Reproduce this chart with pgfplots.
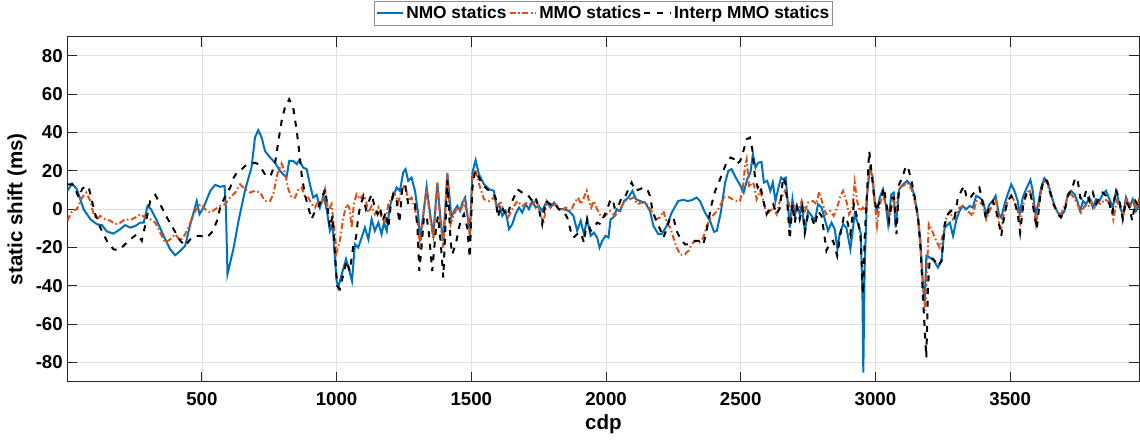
\documentclass[border=0pt]{standalone}
\usepackage{pgfplots}
\pgfplotsset{compat=1.18}
\usepackage{fontspec}
\setmainfont{Liberation Sans}
\definecolor{mblue}{RGB}{0,114,189}
\definecolor{morange}{RGB}{217,83,25}
\definecolor{axgray}{RGB}{38,38,38}
\begin{document}
\begin{tikzpicture}
\path[use as bounding box] (0,0) rectangle (855pt,330pt);
\begin{axis}[
  at={(50.6pt,43.7pt)}, anchor=south west,
  scale only axis, width=804pt, height=258.75pt,
  xmin=1, xmax=3980, ymin=-90, ymax=90,
  xtick={500,1000,1500,2000,2500,3000,3500},
  ytick={-80,-60,-40,-20,0,20,40,60,80},
  /pgf/number format/assume math mode=true,
  /pgf/number format/1000 sep={},
  tick label style={font=\fontsize{14}{16}\selectfont\bfseries, text=black},
  xticklabel style={yshift=-4.5pt},
  label style={font=\fontsize{15.4}{18}\selectfont\bfseries},
  xlabel={cdp}, ylabel={static shift (ms)},
  tick align=inside, major tick length=7.5pt,
  axis line style={axgray, line width=0.75pt},
  every tick/.style={axgray, line width=0.75pt},
  grid=major, major grid style={gray!25, line width=0.6pt},
  legend columns=3,
  legend style={at={(0.5,1)}, anchor=south, yshift=8.25pt, draw=gray!90, line width=0.6pt,
    font=\fontsize{13}{15}\selectfont\bfseries, inner xsep=1pt, inner ysep=1pt,
    nodes={inner xsep=1.6pt, inner ysep=2.5pt}},
  legend image code/.code={\draw[#1] (0cm,0cm) -- (0.7cm,0cm);},
]
\addplot[mblue, line width=1.5pt] coordinates {
(1,9.6)(18,13.4)(36,10.4)(61,0)(86,-5.2)(110,-7.8)(129,-8.3)(147,-11.6)(172,-12.7)(197,-10.4)
(215,-8.3)(234,-9.6)(253,-8.7)(271,-7)(284,-7)(298,1.7)(311,0)(333,-6)(358,-13.9)(382,-20.9)
(401,-24)(420,-21.7)(438,-19)(457,-7.8)(481,4.3)(491,-2.6)(506,0.9)(531,9.6)(549,12.7)(568,11.7)
(584,12.2)(589,0.9)(595,-33.9)(618,-20)(636,-6)(661,10.4)(684,21.7)(697,37.4)(709,41.2)(722,37.4)
(734,30.4)(753,27)(771,24.3)(790,20)(814,16.5)(824,25.2)(839,25.2)(852,23.5)(861,25.6)(876,21.7)
(889,20.9)(901,13)(913,6.1)(926,7.5)(938,0.9)(951,7)(963,0)(975,-11.3)(985,-7.8)(1000,-37.4)
(1006,-40.9)(1019,-33.9)(1035,-26)(1047,-32)(1057,-37.4)(1068,-18.3)(1080,-20)(1093,-14.8)(1105,-9.6)(1118,-15.7)
(1130,-5.2)(1142,-11.3)(1155,-7)(1167,-13)(1176,-7)(1186,-11.3)(1198,1.7)(1210,7)(1223,11.3)(1235,9.6)
(1247,19.1)(1256,20.9)(1266,14.8)(1278,16.5)(1291,9.6)(1303,-2.6)(1309,-16.5)(1322,-2.6)(1334,11.7)(1349,-4.3)
(1359,-13)(1374,13.9)(1386,-6)(1396,-16.5)(1411,18.6)(1426,-4.3)(1436,-0.9)(1448,1.7)(1458,-0.9)(1467,3.5)
(1477,6.1)(1485,-2.6)(1495,-11.3)(1504,19.1)(1516,25.6)(1528,18.3)(1547,13)(1566,10.4)(1584,9.6)(1594,0.9)
(1603,2.6)(1615,-3.5)(1627,-0.9)(1640,-10.4)(1652,-7.8)(1664,-2.6)(1677,0.9)(1689,-1.7)(1702,2.6)(1714,0)
(1726,4.3)(1739,0.9)(1751,1.7)(1763,-0.9)(1780,4.3)(1794,0.9)(1807,3.5)(1825,0)(1844,0)(1862,-0.9)
(1879,-3.5)(1893,-11.3)(1906,-6)(1918,-13)(1930,-5.2)(1943,-13.9)(1955,-12.2)(1967,-14.8)(1976,-20)(1986,-16.5)
(1998,-13.9)(2009,-14.8)(2017,-5.2)(2027,-4.3)(2040,0)(2052,-0.9)(2067,4.3)(2083,6.1)(2098,9.6)(2111,5.2)
(2126,4.3)(2145,3.5)(2163,-0.9)(2176,-8.7)(2194,-13)(2207,-13)(2225,-8.7)(2244,-1.7)(2268,4.3)(2287,4.9)
(2302,4.3)(2318,4.7)(2336,6.1)(2349,4.3)(2367,-1.7)(2386,-6)(2401,-11.8)(2411,-11.3)(2426,-1.7)(2442,13.9)
(2454,20)(2466,20.9)(2480,16.9)(2499,12.2)(2511,8.7)(2524,15.7)(2536,19.1)(2545,28.7)(2555,21.7)(2565,24.3)
(2577,24.7)(2586,13.9)(2598,14.8)(2610,9.6)(2619,13.9)(2629,4.3)(2640,11.3)(2650,16.5)(2657,15.7)(2667,16.5)
(2676,0.9)(2682,-9.6)(2692,5.2)(2701,-3.5)(2709,1.7)(2719,-2.6)(2726,2.6)(2738,-11.3)(2750,-0.9)(2763,-3.5)
(2775,-6)(2787,2.6)(2800,0.9)(2812,-5.2)(2824,-11.3)(2837,-7)(2849,-10.4)(2859,-20.9)(2867,-13)(2880,-7.8)
(2892,-9.6)(2907,-20.9)(2923,-2.6)(2936,-7.8)(2946,-13)(2952,-47.8)(2955,-85.2)(2960,-30.4)(2969,7.8)(2979,20.9)
(2989,17.4)(2998,2.6)(3006,-0.9)(3016,6.1)(3028,10.4)(3038,2.6)(3047,-7.8)(3059,7.8)(3068,8.7)(3075,-9.6)
(3088,10.4)(3103,13)(3118,14.8)(3134,12.2)(3146,6.1)(3158,-4.3)(3167,-16.5)(3177,-40.9)(3183,-47.8)(3189,-24.3)
(3202,-25.2)(3216,-26.6)(3232,-30.4)(3245,-27)(3257,-9.6)(3276,-7)(3288,-13.9)(3301,-5.2)(3312,-0.9)(3324,1.7)
(3337,0)(3349,1.7)(3361,0.9)(3374,7)(3386,6.1)(3399,4.3)(3411,-2.6)(3423,2.6)(3436,4.3)(3446,7)
(3458,-2.6)(3467,-4.3)(3479,2.6)(3491,7.8)(3504,13)(3516,9.6)(3528,4.3)(3535,-2.6)(3547,6.1)(3559,10.4)
(3575,15.3)(3584,9.6)(3594,-2.6)(3604,2.6)(3615,11.3)(3627,16.2)(3640,13.9)(3652,7.8)(3665,1.7)(3677,-1.7)
(3689,-3.5)(3702,-0.9)(3714,7.8)(3726,9.6)(3739,7.8)(3751,3.5)(3760,-0.9)(3770,4.3)(3782,2.6)(3794,6.1)
(3807,0.9)(3819,5.2)(3831,4.3)(3844,7.8)(3856,9.6)(3869,5.2)(3881,0.9)(3893,9.6)(3906,2.6)(3918,-3.5)
(3930,6.1)(3943,0.9)(3955,5.2)(3967,-0.9)(3980,2.6)
};
\addlegendentry{NMO statics}
\addplot[morange, line width=1.5pt, dash pattern=on 4.5pt off 2pt on 1.2pt off 2pt] coordinates {
(1,-6)(18,-0.9)(36,0)(55,6.1)(71,8.7)(86,4.3)(98,-2.6)(110,-5.2)(123,-3.5)(141,-5.2)
(160,-6)(178,-7.8)(197,-7)(215,-5.2)(234,-5.7)(253,-4.3)(271,-2.6)(290,-4.3)(308,-5.2)(327,-7)
(345,-12.2)(364,-17.4)(382,-15.7)(401,-13)(420,-16.5)(438,-13)(457,-7)(476,-0.9)(494,2.6)(512,0)
(531,-1.7)(549,0)(568,1.7)(586,2.6)(605,6.1)(624,8.7)(642,13)(660,10.4)(678,8.7)(697,9.6)
(716,8.7)(734,4.3)(753,4.3)(765,7.8)(780,18.3)(796,23.8)(808,19.1)(821,10.4)(833,6.1)(846,6.1)
(858,10.4)(870,11.3)(882,7)(895,6.1)(907,2.6)(920,0.9)(932,4.3)(944,2.6)(957,10.4)(969,-0.9)
(981,2.6)(991,-9.6)(1000,-22.6)(1012,-16.5)(1025,-4.3)(1037,2.6)(1047,0.9)(1056,-9.6)(1064,2.6)(1074,7.8)
(1087,5.2)(1099,7.8)(1109,4.3)(1118,-1.7)(1130,1.7)(1142,-2.6)(1155,0.9)(1167,-4.3)(1180,-7)(1192,2.6)
(1204,6.1)(1217,7.8)(1229,3.5)(1241,9.6)(1254,13)(1266,4.3)(1278,6.1)(1291,0)(1303,-9.6)(1309,-20.9)
(1322,-2.6)(1334,10.4)(1349,-6)(1359,-15.7)(1374,13.9)(1386,-7.8)(1396,-20)(1411,19.1)(1423,-7.8)(1436,-2.6)
(1448,0.9)(1460,-0.9)(1473,4.3)(1485,-2.6)(1495,-14.8)(1504,15.7)(1514,20.9)(1525,14.8)(1535,10.4)(1547,5.2)
(1566,4.3)(1584,6.1)(1597,0.9)(1609,4.3)(1621,-1.7)(1636,-4.3)(1652,0)(1671,4.3)(1689,1.7)(1708,3.5)
(1726,1.7)(1742,5.2)(1757,-2.6)(1767,-7.8)(1780,3.5)(1794,0.9)(1813,2.6)(1831,-0.9)(1850,0.9)(1869,-0.9)
(1884,3.5)(1896,6.1)(1908,2.6)(1918,6.1)(1928,9.6)(1937,4.3)(1945,0.9)(1955,4.3)(1967,0)(1980,-3.5)
(1996,-3.5)(2015,-0.9)(2033,-3.5)(2052,0)(2070,4.3)(2089,5.2)(2101,6.1)(2116,2.6)(2132,3.5)(2151,2.6)
(2169,-0.9)(2186,-5.2)(2200,-4.3)(2213,-0.9)(2225,-7)(2238,-9.6)(2250,-14.8)(2262,-20)(2277,-23.8)(2293,-23.5)
(2306,-21.7)(2318,-18.3)(2330,-16.5)(2346,-17.4)(2361,-14.8)(2374,-8.7)(2386,-5.2)(2401,-2.6)(2413,-0.9)(2426,2.6)
(2438,6.1)(2454,6.4)(2470,5.2)(2485,4.3)(2497,4.3)(2507,9.6)(2516,22.6)(2522,26.1)(2531,11.3)(2541,13.9)
(2549,13)(2559,5.2)(2572,9.6)(2584,4.3)(2596,-2.6)(2609,-0.9)(2621,0.9)(2633,-2.6)(2645,4.3)(2664,9.6)
(2676,4.3)(2689,-2.6)(2701,2.6)(2713,-0.9)(2726,4.3)(2738,-0.9)(2750,3.5)(2769,4.3)(2781,2.6)(2791,9.2)
(2803,3.5)(2816,-2.6)(2831,-0.9)(2845,-3.5)(2858,0.9)(2870,7)(2880,9.6)(2892,4.3)(2902,-2.6)(2915,0.9)
(2923,13.9)(2932,4.3)(2942,-0.9)(2954,0.9)(2964,-0.9)(2977,20.9)(2989,17.4)(2998,2.6)(3006,-8.7)(3016,2.6)
(3028,7.8)(3041,0.9)(3053,-3.5)(3066,6.1)(3075,-0.9)(3088,11.3)(3103,12.2)(3118,13.9)(3134,10.4)(3146,4.3)
(3158,-4.3)(3167,-20)(3177,-40.9)(3185,-53)(3192,-30.4)(3198,-7.8)(3208,-10.4)(3220,-14.8)(3238,-20)(3251,-13)
(3263,-4.3)(3276,-0.9)(3288,-5.2)(3301,-2.6)(3312,0.9)(3324,1.7)(3337,-0.9)(3349,-1.7)(3361,-3.5)(3374,4.3)
(3386,3.5)(3399,2.6)(3411,-5.2)(3423,-0.9)(3436,2.6)(3448,4.3)(3460,-7.8)(3467,-10.4)(3479,-0.9)(3491,4.3)
(3504,7)(3516,4.3)(3528,-0.9)(3537,-7)(3549,2.6)(3559,7)(3572,10.4)(3584,4.3)(3596,-7.8)(3609,4.3)
(3621,13.9)(3634,14.8)(3646,9.6)(3658,4.3)(3673,-0.9)(3689,-2.6)(3705,2.6)(3717,8.7)(3732,7)(3747,3.5)
(3763,-1.7)(3776,1.7)(3788,0.9)(3801,4.3)(3813,0.9)(3825,3.5)(3838,2.6)(3850,5.2)(3862,4.3)(3875,1.7)
(3883,-5.2)(3896,4.3)(3908,0.9)(3921,-2.6)(3933,6.1)(3945,1.7)(3958,4.3)(3970,0)(3980,6.1)
};
\addlegendentry{MMO statics}
\addplot[black, line width=1.5pt, dash pattern=on 4.5pt off 5pt] coordinates {
(1,13)(18,13)(30,10.4)(43,6.1)(55,10.4)(67,12.2)(80,11.3)(92,4.3)(104,-2.6)(123,-9.6)
(147,-16.5)(172,-20.9)(191,-21.4)(209,-19.1)(234,-15.7)(259,-13)(277,-16.5)(293,-6)(308,4.3)(327,7.5)
(345,2.6)(370,-4.3)(395,-10.4)(420,-16.5)(438,-19.1)(457,-15.7)(476,-13.9)(494,-13.9)(519,-14.8)(541,-11.3)
(556,-6)(568,0.9)(587,7)(605,11.3)(618,16.5)(630,19.1)(648,20.9)(660,22.6)(678,23.5)(697,24.3)
(709,23.5)(722,20.9)(738,17.4)(755,17.4)(771,23.5)(784,35.7)(796,46.1)(808,53)(824,57.4)(839,53)
(852,40.9)(861,30.4)(870,18.3)(882,7.8)(895,0.9)(907,-5.2)(920,-0.9)(932,0.9)(944,5.2)(957,10.4)
(965,2.6)(975,-9.6)(985,-3.5)(994,-23.5)(1002,-40)(1012,-41.7)(1025,-33.9)(1037,-27)(1049,-32.2)(1062,-19.1)
(1072,-14.8)(1080,-4.3)(1089,2.6)(1099,6.1)(1109,0)(1120,4.3)(1130,7.8)(1142,0.9)(1152,-2.6)(1161,0.9)
(1171,-6)(1182,-1.7)(1192,-9.6)(1200,0.9)(1210,7.8)(1223,4.3)(1233,-7)(1244,11.3)(1254,13)(1266,2.6)
(1278,2.6)(1291,2.6)(1300,-9.6)(1307,-32.2)(1315,-20)(1324,-4.3)(1334,-3.5)(1343,-13)(1355,-32.2)(1368,-11.3)
(1376,-3.5)(1386,-16.5)(1396,-35.7)(1411,15)(1423,-16.5)(1429,-23.5)(1442,-18.3)(1451,-12.2)(1460,-6)(1473,-2.6)
(1485,-9.6)(1494,-25.2)(1504,11.3)(1514,20)(1525,17.4)(1541,13)(1559,10.4)(1578,8.7)(1590,6.1)(1599,-4.3)
(1609,1.7)(1621,-0.9)(1634,-3.5)(1646,2.6)(1658,6.1)(1671,10.4)(1689,8.7)(1708,7.8)(1726,4.3)(1739,6.1)
(1751,0)(1763,-7.8)(1776,4.3)(1794,2.6)(1807,3.5)(1825,0)(1841,-0.9)(1856,-4.3)(1869,-11.3)(1879,-14.8)
(1893,-13)(1906,-12.2)(1918,-17.4)(1930,-5.2)(1943,-11.3)(1955,-9.6)(1967,-7)(1980,-7.8)(1990,-4.3)(2002,-0.9)
(2015,4.3)(2025,5.2)(2033,0)(2046,1.7)(2058,6.1)(2070,6.1)(2083,10.4)(2095,13.9)(2108,9.6)(2124,10.4)
(2139,11.3)(2153,10.4)(2163,7)(2173,-0.9)(2186,-6)(2198,-9.6)(2213,-14.8)(2225,-10.4)(2238,-4.3)(2250,-4.3)
(2262,-11.3)(2277,-15.7)(2293,-18.3)(2312,-18.3)(2330,-16.5)(2349,-16.5)(2361,-18.3)(2371,-13)(2380,-6)(2392,2.6)
(2405,9.6)(2421,14.8)(2435,20)(2450,25.2)(2463,27)(2475,26.1)(2485,23.5)(2498,25.2)(2510,30.4)(2522,36.5)
(2534,37.4)(2543,31.3)(2553,16.5)(2563,11.3)(2572,13)(2584,4.3)(2596,-2.6)(2609,0.9)(2621,2.6)(2633,-2.6)
(2646,0.9)(2657,16.5)(2667,13)(2676,-2.6)(2682,-15.7)(2692,2.6)(2701,-7)(2709,0.9)(2719,-5.2)(2729,0.9)
(2738,-12.2)(2750,-2.6)(2763,-4.3)(2775,-8.7)(2787,-0.9)(2800,-3.5)(2810,-13)(2818,-21.7)(2831,-17.4)(2843,-16.5)
(2858,-24.3)(2870,-13)(2883,-3.5)(2895,-6)(2907,-13)(2920,2.6)(2932,-4.3)(2944,-13)(2954,-44.3)(2960,-14.8)
(2967,4.3)(2977,30.4)(2985,20)(2994,7.8)(3004,-0.9)(3014,3.5)(3022,6.1)(3031,11.3)(3041,2.6)(3051,-6)
(3063,6.1)(3069,6.1)(3078,-13)(3088,13)(3100,16.5)(3113,22.6)(3121,21.7)(3134,14.8)(3146,6.1)(3158,-4.3)
(3168,-21.7)(3177,-47.8)(3184,-65.2)(3189,-77.4)(3195,-40.9)(3202,-25.2)(3216,-26.1)(3232,-29.6)(3245,-27)(3257,-7.8)
(3269,-2.6)(3282,-0.9)(3294,-4.3)(3306,6.1)(3319,9.6)(3329,12.2)(3337,7)(3349,5.2)(3361,7.8)(3374,9.6)
(3386,11.3)(3399,2.6)(3411,-5.2)(3423,1.7)(3436,4.3)(3448,-0.9)(3460,-8.7)(3467,-13.9)(3479,-2.6)(3491,4.3)
(3504,7)(3516,4.3)(3528,-2.6)(3537,-12.2)(3549,2.6)(3559,7.8)(3572,9.6)(3584,2.6)(3599,-10.4)(3611,6.1)
(3624,15.7)(3637,14.8)(3649,8.7)(3661,2.6)(3677,-2.6)(3689,-4.3)(3705,0.9)(3717,7.8)(3729,10.4)(3742,16.5)
(3751,14.8)(3760,6.1)(3772,4.3)(3782,9.6)(3794,4.3)(3807,8.7)(3819,2.6)(3831,6.1)(3844,8.7)(3856,7)
(3869,2.6)(3879,-2.6)(3893,10.4)(3906,4.3)(3918,-5.2)(3930,4.3)(3943,0.9)(3953,-6)(3965,4.3)(3980,0.9)
};
\addlegendentry{Interp MMO statics}
\end{axis}
\end{tikzpicture}
\end{document}
